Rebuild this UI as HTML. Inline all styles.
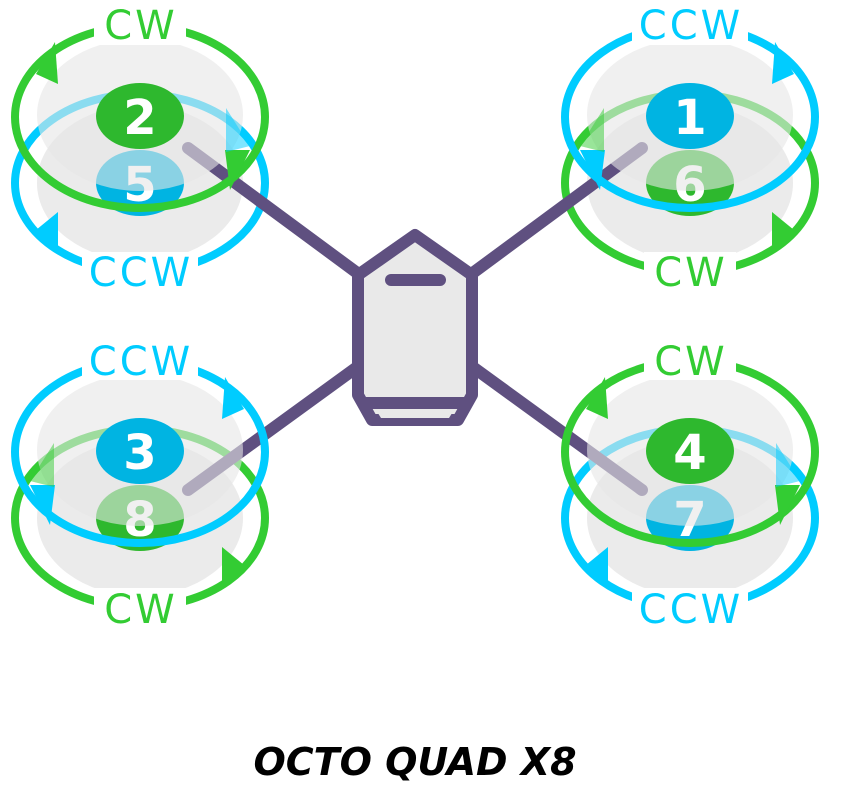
<!DOCTYPE html>
<html><head><meta charset="utf-8"><style>
html,body{margin:0;padding:0;background:#fff;}
svg{display:block;}
.lbl{font-family:"DejaVu Sans","Liberation Sans",sans-serif;font-size:40px;text-anchor:middle;letter-spacing:3px;}
.num{font-family:"DejaVu Sans","Liberation Sans",sans-serif;font-size:48px;text-anchor:middle;fill:#fff;font-weight:bold;}
</style></head><body>
<svg width="841" height="789" viewBox="0 0 841 789" xmlns="http://www.w3.org/2000/svg">
<defs>
  <g id="lowA"><ellipse cx="0" cy="33" rx="125" ry="89" fill="none" stroke="#00ccff" stroke-width="8"/></g>
  <g id="lowB"><ellipse cx="0" cy="33" rx="125" ry="89" fill="none" stroke="#33cc33" stroke-width="8"/></g>
  <ellipse id="lowdisc" cx="0" cy="33" rx="103" ry="78" fill="#ebebeb"/>
  <ellipse id="updisc" cx="0" cy="-35" rx="103" ry="76" fill="#e6e6e6" opacity="0.6"/>
</defs>

<!-- lower discs -->
<use href="#lowdisc" transform="translate(140,150)"/>
<use href="#lowdisc" transform="translate(690,150)"/>
<use href="#lowdisc" transform="translate(140,485)"/>
<use href="#lowdisc" transform="translate(690,485)"/>

<!-- lower rings -->
<use href="#lowA" transform="translate(140,150)"/>
<use href="#lowB" transform="translate(690,150)"/>
<use href="#lowB" transform="translate(140,485)"/>
<use href="#lowA" transform="translate(690,485)"/>

<!-- lower numbers -->
<ellipse cx="140" cy="183" rx="44" ry="33" fill="#00b4e2"/>
<text class="num" x="140" y="201">5</text>
<ellipse cx="690" cy="183" rx="44" ry="33" fill="#2eb82e"/>
<text class="num" x="690" y="201">6</text>
<ellipse cx="140" cy="518" rx="44" ry="33" fill="#2eb82e"/>
<text class="num" x="140" y="536">8</text>
<ellipse cx="690" cy="518" rx="44" ry="33" fill="#00b4e2"/>
<text class="num" x="690" y="536">7</text>

<!-- arms -->
<g stroke="#5f5080" stroke-width="12" stroke-linecap="round">
  <line x1="188" y1="148" x2="360" y2="275"/>
  <line x1="642" y1="148" x2="470" y2="275"/>
  <line x1="188" y1="490" x2="360" y2="365"/>
  <line x1="642" y1="490" x2="470" y2="365"/>
</g>

<!-- upper discs -->
<use href="#updisc" transform="translate(140,150)"/>
<use href="#updisc" transform="translate(690,150)"/>
<use href="#updisc" transform="translate(140,485)"/>
<use href="#updisc" transform="translate(690,485)"/>

<!-- upper rings -->
<g fill="none" stroke-width="8">
  <ellipse cx="140" cy="117" rx="125" ry="91" stroke="#33cc33"/>
  <ellipse cx="690" cy="117" rx="125" ry="91" stroke="#00ccff"/>
  <ellipse cx="140" cy="452" rx="125" ry="91" stroke="#00ccff"/>
  <ellipse cx="690" cy="452" rx="125" ry="91" stroke="#33cc33"/>
</g>

<!-- arrowheads -->
<g>
  <g transform="translate(140,150)">
    <polygon points="-104,-76 -85,-108 -82,-66" fill="#33cc33"/>
    <polygon points="85,0 110,0 90,40" fill="#33cc33"/>
    <polygon points="86,-42 86,2 110,-4" fill="#00ccff" opacity="0.5"/>
    <polygon points="-104,80 -82,62 -82,100" fill="#00ccff"/>
  </g>
  <g transform="translate(690,485)">
    <polygon points="-104,-76 -85,-108 -82,-66" fill="#33cc33"/>
    <polygon points="85,0 110,0 90,40" fill="#33cc33"/>
    <polygon points="86,-42 86,2 110,-4" fill="#00ccff" opacity="0.5"/>
    <polygon points="-104,80 -82,62 -82,100" fill="#00ccff"/>
  </g>
  <g transform="translate(690,150) scale(-1,1)">
    <polygon points="-104,-76 -85,-108 -82,-66" fill="#00ccff"/>
    <polygon points="85,0 110,0 90,40" fill="#00ccff"/>
    <polygon points="86,-42 86,2 110,-4" fill="#33cc33" opacity="0.5"/>
    <polygon points="-104,80 -82,62 -82,100" fill="#33cc33"/>
  </g>
  <g transform="translate(140,485) scale(-1,1)">
    <polygon points="-104,-76 -85,-108 -82,-66" fill="#00ccff"/>
    <polygon points="85,0 110,0 90,40" fill="#00ccff"/>
    <polygon points="86,-42 86,2 110,-4" fill="#33cc33" opacity="0.5"/>
    <polygon points="-104,80 -82,62 -82,100" fill="#33cc33"/>
  </g>
</g>

<!-- upper numbers -->
<ellipse cx="140" cy="116" rx="44" ry="33" fill="#2eb82e"/>
<text class="num" x="140" y="134">2</text>
<ellipse cx="690" cy="116" rx="44" ry="33" fill="#00b4e2"/>
<text class="num" x="690" y="134">1</text>
<ellipse cx="140" cy="451" rx="44" ry="33" fill="#00b4e2"/>
<text class="num" x="140" y="469">3</text>
<ellipse cx="690" cy="451" rx="44" ry="33" fill="#2eb82e"/>
<text class="num" x="690" y="469">4</text>

<!-- label gaps -->
<g fill="#fff">
  <rect x="94" y="5" width="92" height="40"/>
  <rect x="82" y="252" width="116" height="40"/>
  <rect x="632" y="5" width="116" height="40"/>
  <rect x="644" y="252" width="92" height="40"/>
  <rect x="82" y="340" width="116" height="40"/>
  <rect x="94" y="588" width="92" height="40"/>
  <rect x="644" y="340" width="92" height="40"/>
  <rect x="632" y="588" width="116" height="40"/>
</g>
<text class="lbl" x="141" y="39" fill="#33cc33">CW</text>
<text class="lbl" x="141" y="286" fill="#00ccff">CCW</text>
<text class="lbl" x="691" y="39" fill="#00ccff">CCW</text>
<text class="lbl" x="691" y="286" fill="#33cc33">CW</text>
<text class="lbl" x="141" y="375" fill="#00ccff">CCW</text>
<text class="lbl" x="141" y="623" fill="#33cc33">CW</text>
<text class="lbl" x="691" y="375" fill="#33cc33">CW</text>
<text class="lbl" x="691" y="623" fill="#00ccff">CCW</text>

<!-- body -->
<path d="M358,275 L415,235 L472,275 L472,395 L458,420 L372,420 L358,395 Z" fill="#e9e9e9" stroke="#5f5080" stroke-width="12" stroke-linejoin="round"/>
<line x1="360" y1="403" x2="470" y2="403" stroke="#5f5080" stroke-width="12"/>
<polygon points="376,410 454,410 449,418 381,418" fill="#e9e9e9"/>
<line x1="391" y1="280" x2="440" y2="280" stroke="#5f5080" stroke-width="12" stroke-linecap="round"/>

<text x="415" y="775" text-anchor="middle" font-family="'DejaVu Sans','Liberation Sans',sans-serif" font-size="38" font-weight="bold" font-style="italic" fill="#000">OCTO QUAD X8</text>
</svg>
</body></html>
